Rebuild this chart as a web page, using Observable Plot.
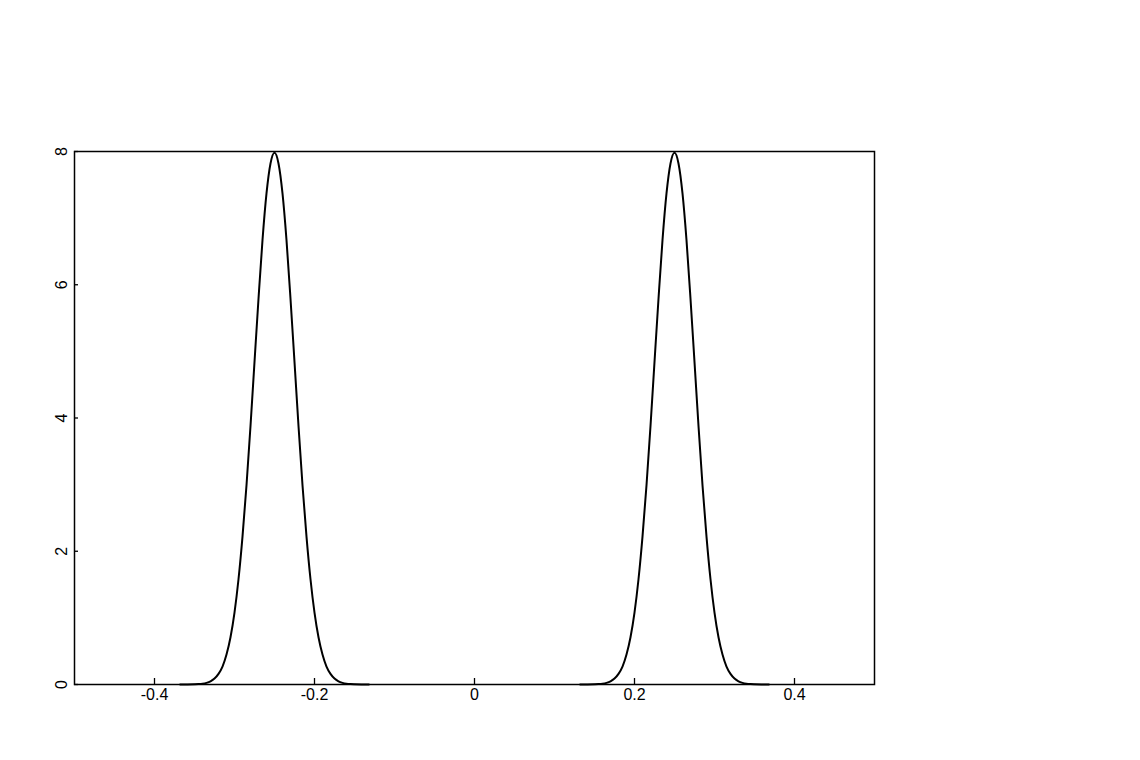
<!DOCTYPE html>
<html>
<head>
<meta charset="utf-8">
<script src="https://cdn.jsdelivr.net/npm/d3@7"></script>
<script src="https://cdn.jsdelivr.net/npm/@observablehq/plot@0.6"></script>
<style>
  html, body { margin: 0; padding: 0; background: #fff; }
  #chart { width: 1140px; height: 760px; position: relative; }
  #chart svg { display: block; }
</style>
</head>
<body>
<div id="chart"></div>
<script>
// Peak centres (x)
const peakCentres = [-0.25, 0.25];
// Distance from a peak centre (x units) and curve height
const offsets = [0, 0.005, 0.01, 0.015, 0.02, 0.025, 0.03, 0.035, 0.04, 0.045, 0.05, 0.055,
  0.06, 0.065, 0.07, 0.075, 0.08, 0.085, 0.09, 0.095, 0.1, 0.11, 0.118];
const heights = [7.98, 7.82, 7.37, 6.67, 5.79, 4.84, 3.88, 2.99, 2.22, 1.58, 1.08, 0.71,
  0.45, 0.27, 0.16, 0.09, 0.048, 0.025, 0.012, 0.006, 0.003, 0.0006, 0];
// Axis ticks
const xTicks = [-0.4, -0.2, 0, 0.2, 0.4];
const xTickLabels = ["-0.4", "-0.2", "0", "0.2", "0.4"];
const yTicks = [0, 2, 4, 6, 8];
const yTickLabels = ["0", "2", "4", "6", "8"];

// Build the point table: each peak is symmetric about its centre
const points = [];
peakCentres.forEach((c, p) => {
  for (let i = offsets.length - 1; i > 0; i--) points.push({peak: p, x: c - offsets[i], y: heights[i]});
  for (let i = 0; i < offsets.length; i++) points.push({peak: p, x: c + offsets[i], y: heights[i]});
});

const font = "'Liberation Sans', Arial, Helvetica, sans-serif";

const chart = Plot.plot({
  width: 1140,
  height: 760,
  marginLeft: 74,
  marginRight: 266,
  marginTop: 151,
  marginBottom: 76,
  style: {fontFamily: font, fontSize: "16px", background: "#fff", color: "#000"},
  x: {domain: [-0.5, 0.5], label: null},
  y: {domain: [0, 8], label: null},
  marks: [
    Plot.line(points, {x: "x", y: "y", z: "peak", stroke: "#000", strokeWidth: 2, curve: "monotone-x"}),
    Plot.axisX(xTicks, {tickSize: -6, text: null, stroke: "#000", strokeWidth: 1.3, label: null}),
    Plot.axisX(xTicks, {tickSize: 0, tickPadding: 4, tickFormat: (d, i) => xTickLabels[i], fill: "#000", fontSize: 16, label: null}),
    Plot.axisY(yTicks, {tickSize: -4, text: null, stroke: "#000", strokeWidth: 1.3, label: null}),
    Plot.text(yTicks, {y: d => d, text: (d, i) => yTickLabels[i], frameAnchor: "left", rotate: -90, dx: -13,
      textAnchor: "middle", lineAnchor: "middle", fill: "#000", fontSize: 16}),
    Plot.frame({stroke: "#000", strokeWidth: 1.5})
  ]
});
document.getElementById("chart").appendChild(chart);
</script>
</body>
</html>
